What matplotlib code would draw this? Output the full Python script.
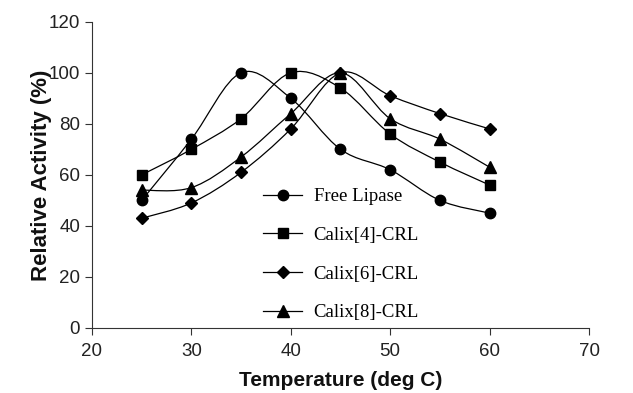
import matplotlib
matplotlib.use("Agg")
import matplotlib.pyplot as plt
from matplotlib.path import Path
from matplotlib.patches import PathPatch

# Дані з графіка
temperature = [25, 30, 35, 40, 45, 50, 55, 60]
free_lipase = [50, 74, 100, 90, 70, 62, 50, 45]
calix4_crl = [60, 70, 82, 100, 94, 76, 65, 56]
calix6_crl = [43, 49, 61, 78, 100, 91, 84, 78]
calix8_crl = [54, 55, 67, 84, 100, 82, 74, 63]

series = [
    ("Free Lipase", free_lipase, "o", 7.5),
    ("Calix[4]-CRL", calix4_crl, "s", 6.5),
    ("Calix[6]-CRL", calix6_crl, "D", 6.5),
    ("Calix[8]-CRL", calix8_crl, "^", 8.5),
]


def smooth_path(xs, ys):
    # згладжена лінія як у Excel (Безьє через точки)
    pts = list(zip(xs, ys))
    verts = [pts[0]]
    codes = [Path.MOVETO]
    n = len(pts)
    for i in range(n - 1):
        p0 = pts[i - 1] if i > 0 else pts[i]
        p1 = pts[i]
        p2 = pts[i + 1]
        p3 = pts[i + 2] if i + 2 < n else pts[i + 1]
        c1 = (p1[0] + (p2[0] - p0[0]) / 6, p1[1] + (p2[1] - p0[1]) / 6)
        c2 = (p2[0] - (p3[0] - p1[0]) / 6, p2[1] - (p3[1] - p1[1]) / 6)
        verts += [c1, c2, p2]
        codes += [Path.CURVE4] * 3
    return Path(verts, codes)


fig = plt.figure(figsize=(6.33, 3.93), dpi=100)
ax = fig.add_axes([92 / 633, 1 - 328 / 393, (589 - 92) / 633, (328 - 21.7) / 393])

for label, values, marker, ms in series:
    ax.add_patch(PathPatch(smooth_path(temperature, values), facecolor="none",
                           edgecolor="black", lw=0.9))
    ax.plot(temperature, values, linestyle="none", marker=marker, ms=ms,
            color="black")
    ax.plot([], [], color="black", lw=0.9, marker=marker, ms=ms, label=label)

ax.set_xlim(20, 70)
ax.set_ylim(0, 120)
ax.set_xticks(range(20, 71, 10))
ax.set_yticks(range(0, 121, 20))

ax.spines["top"].set_visible(False)
ax.spines["right"].set_visible(False)
ax.spines["left"].set_color("#333333")
ax.spines["bottom"].set_color("#333333")
ax.tick_params(direction="out", length=5, width=0.8, labelsize=13.5,
               colors="#333333", labelcolor="#222222")
ax.tick_params(axis="x", pad=6)
for t in ax.get_xticklabels() + ax.get_yticklabels():
    t.set_fontfamily("Liberation Sans")

ax.set_xlabel("Temperature (deg C)", fontsize=15, fontweight="bold",
              fontfamily="Liberation Sans", labelpad=8, color="#111111")
ax.set_ylabel("Relative Activity (%)", fontsize=16, fontweight="bold",
              fontfamily="Liberation Sans", labelpad=-2, color="#111111")

ax.legend(loc="upper left", bbox_to_anchor=(263 / 633, 1 - 188 / 393),
          bbox_transform=fig.transFigure, frameon=False, borderpad=0,
          borderaxespad=0, labelspacing=1.15, handlelength=2.1,
          handletextpad=0.6, prop={"family": "Liberation Serif", "size": 13.5})

fig.savefig("out.png", dpi=100)
